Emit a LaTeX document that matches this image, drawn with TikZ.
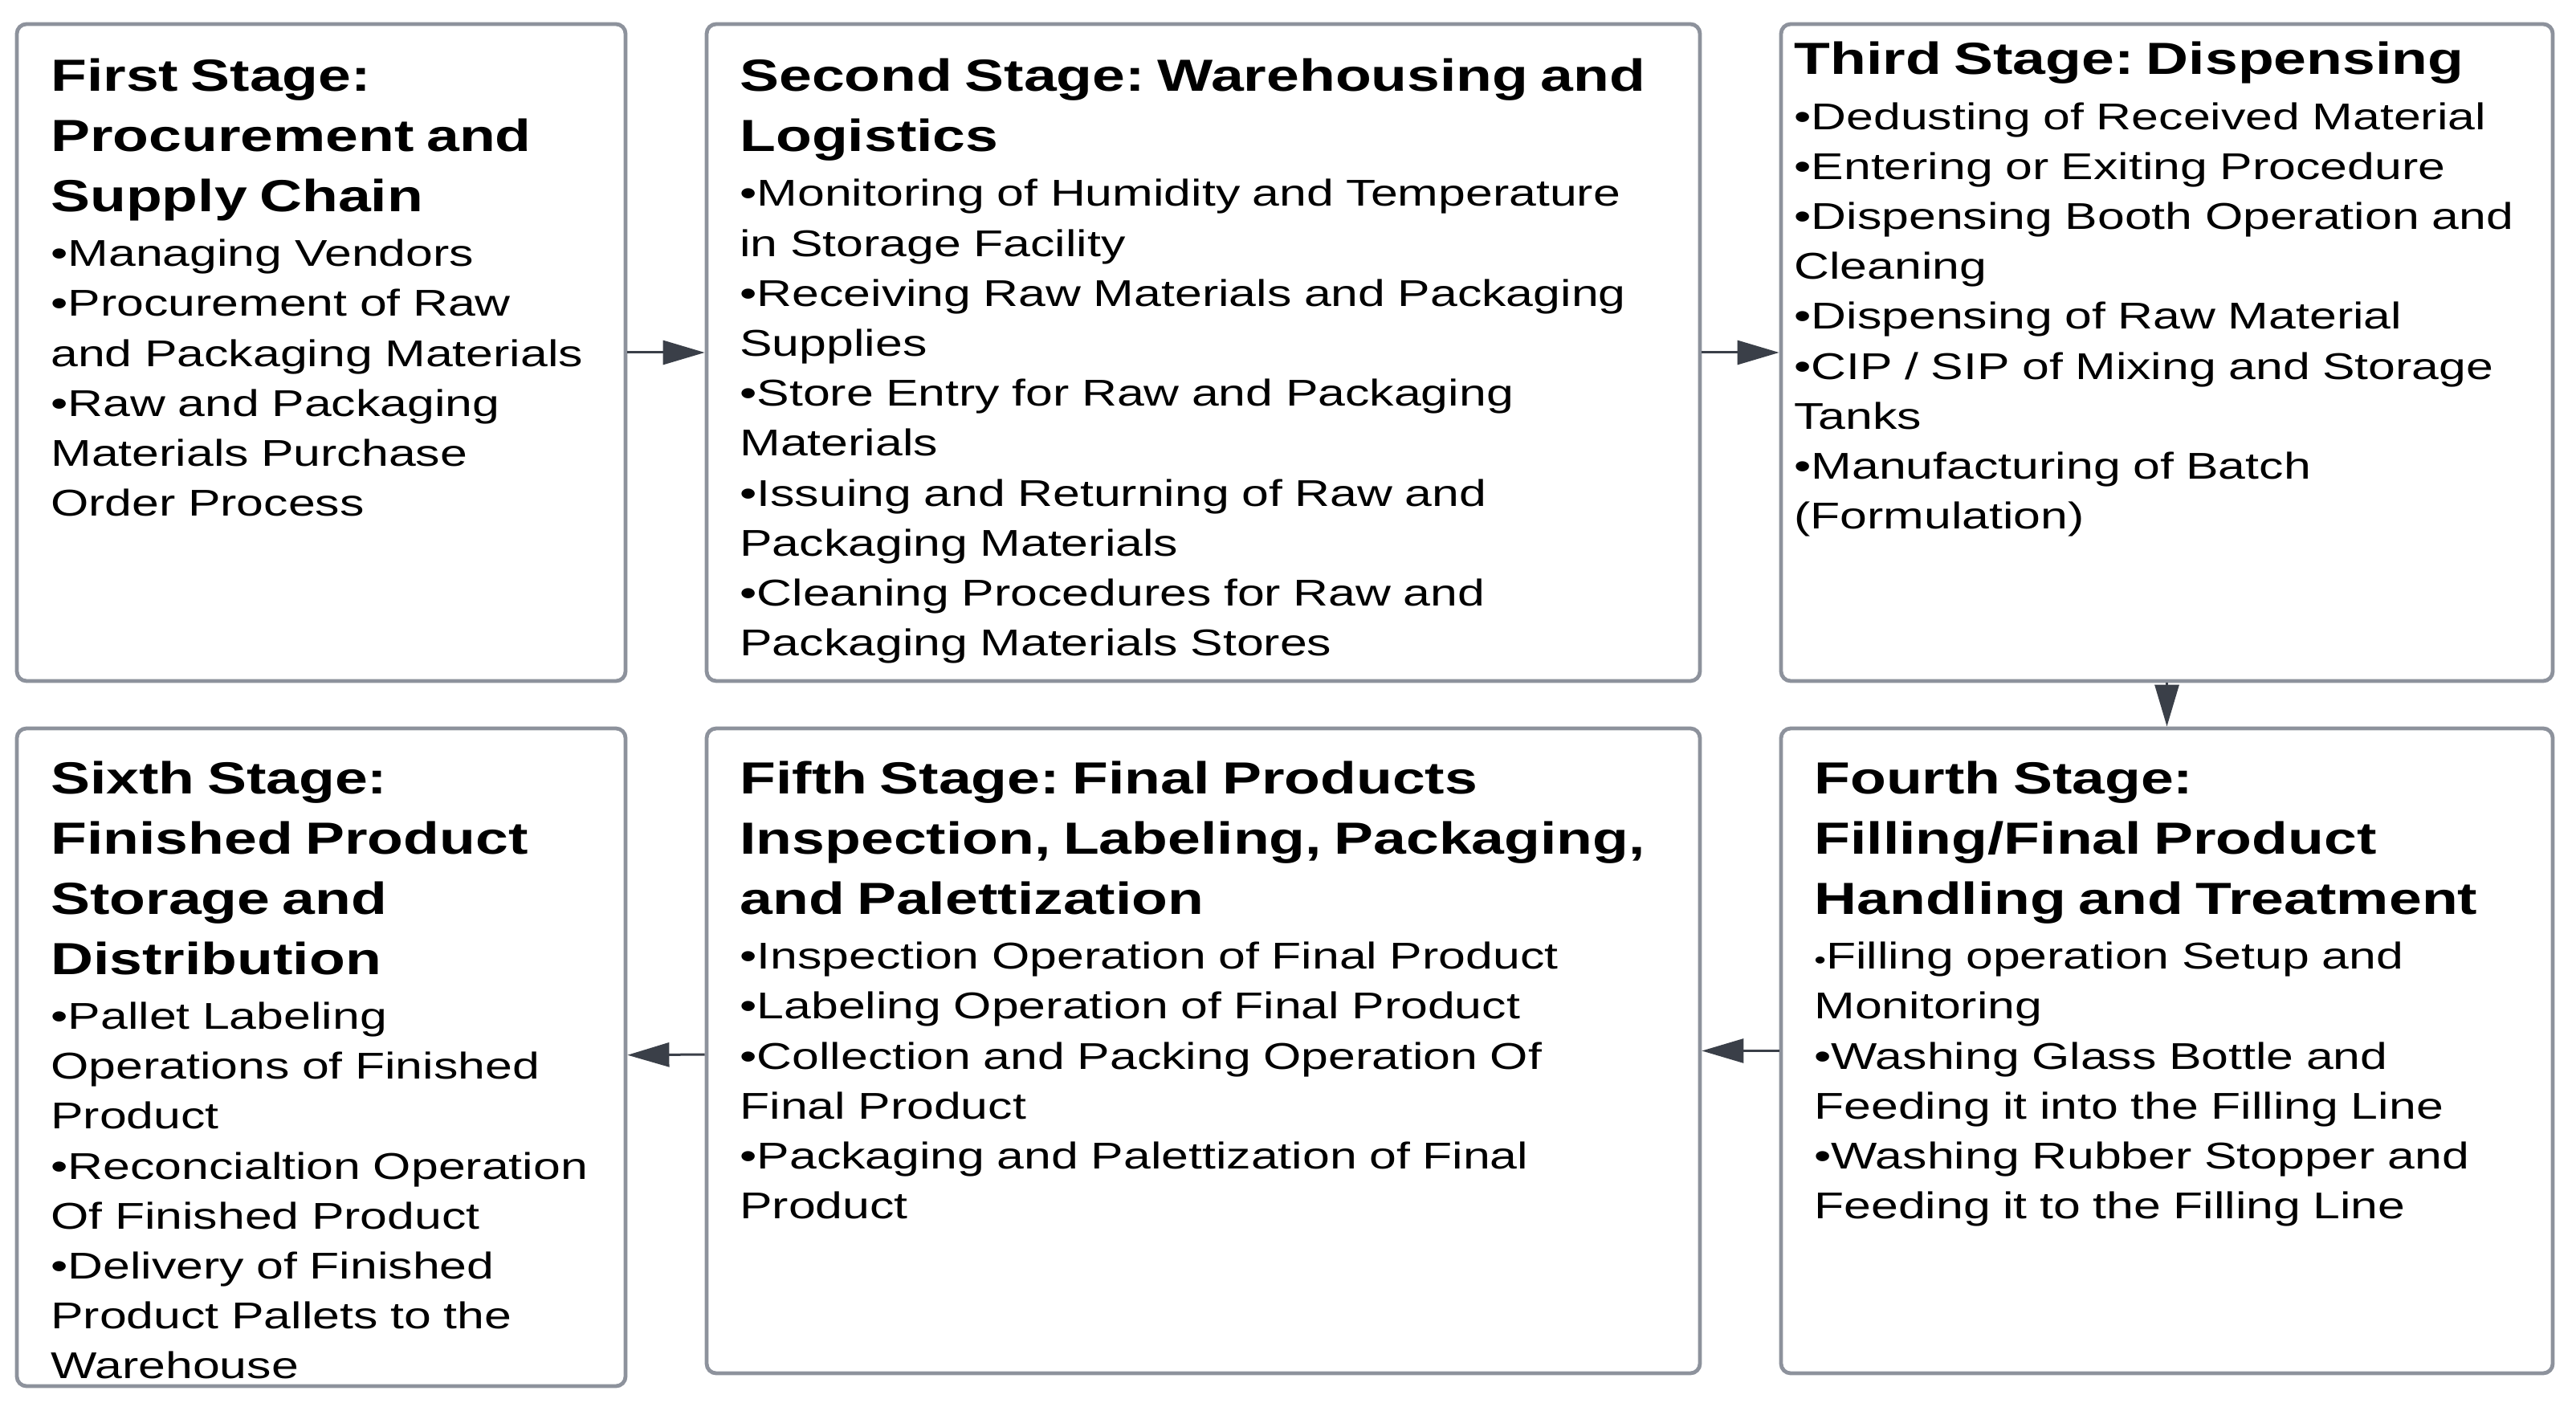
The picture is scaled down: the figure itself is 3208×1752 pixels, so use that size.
\documentclass[tikz,border=0pt]{standalone}
\usepackage{fontspec}
\setmainfont{Liberation Sans}[FakeStretch=1.31]
\usetikzlibrary{arrows.meta}
\usetikzlibrary{fit}

\definecolor{boxgray}{HTML}{8D929C}
\definecolor{arrowgray}{HTML}{3A3F48}

\frenchspacing
\newcommand{\stagebody}{\fontsize{11.6}{15.55}\selectfont}
\newcommand{\stagetitle}[1]{{\fontsize{14}{18.7}\selectfont\bfseries #1\par}\vspace{1.5pt}}

\begin{document}
\begin{tikzpicture}[x=0.25pt, y=-0.25pt,
				stagebox/.style={draw=boxgray, line width=1.2pt, rounded corners=3pt, inner sep=0pt},
				stagetext/.style={anchor=north west, inner sep=0pt, align=left, font=\stagebody},
				flow/.style={draw=arrowgray, line width=0.75pt, -{Triangle[length=13pt, width=7.5pt]}},
				]
				\useasboundingbox (0,0) rectangle (3208,1752);

				% Boxes
				\node[stagebox, fit={(21,30) (779,848)}] (s1) {};
				\node[stagebox, fit={(880,30) (2117,848)}] (s2) {};
				\node[stagebox, fit={(2218,30) (3179,848)}] (s3) {};
				\node[stagebox, fit={(2218,907) (3179,1710)}] (s4) {};
				\node[stagebox, fit={(880,907) (2117,1710)}] (s5) {};
				\node[stagebox, fit={(21,907) (779,1726)}] (s6) {};

				% Arrows
				\draw[flow] (s1) -- (s2);
				\draw[flow] (s2) -- (s3);
				\draw[flow] (s3) -- (s4);
				\draw[flow] (s4) -- (s5);
				\draw[flow] (s5) -- (s6);

				% Texts
				\node[stagetext, text width=179pt] (s1text) at ([shift={(44,45)}]s1.north west)
					{\stagetitle{First Stage:\\Procurement and\\Supply Chain}
					•Managing Vendors\\
					•Procurement of Raw\\
					and Packaging Materials\\
					•Raw and Packaging\\
					Materials Purchase\\
					Order Process};
				\node[stagetext, text width=298pt] (s2text) at ([shift={(43,45)}]s2.north west)
					{\stagetitle{Second Stage: Warehousing and\\Logistics}
					•Monitoring of Humidity and Temperature\\
					in Storage Facility\\
					•Receiving Raw Materials and Packaging\\
					Supplies\\
					•Store Entry for Raw and Packaging\\
					Materials\\
					•Issuing and Returning of Raw and\\
					Packaging Materials\\
					•Cleaning Procedures for Raw and\\
					Packaging Materials Stores};
				\node[stagetext, text width=235pt] (s3text) at ([shift={(18,24)}]s3.north west)
					{\stagetitle{Third Stage: Dispensing}
					•Dedusting of Received Material\\
					•Entering or Exiting Procedure\\
					•Dispensing Booth Operation and\\
					Cleaning\\
					•Dispensing of Raw Material\\
					•CIP / SIP of Mixing and Storage\\
					Tanks\\
					•Manufacturing of Batch\\
					(Formulation)};
				\node[stagetext, text width=229pt] (s4text) at ([shift={(43,43)}]s4.north west)
					{\stagetitle{Fourth Stage:\\Filling/Final Product\\Handling and Treatment}
					{\fontsize{8}{8}\selectfont •}Filling operation Setup and\\
					Monitoring\\
					•Washing Glass Bottle and\\
					Feeding it into the Filling Line\\
					•Washing Rubber Stopper and\\
					Feeding it to the Filling Line};
				\node[stagetext, text width=298pt] (s5text) at ([shift={(43,43)}]s5.north west)
					{\stagetitle{Fifth Stage: Final Products\\Inspection, Labeling, Packaging,\\and Palettization}
					•Inspection Operation of Final Product\\
					•Labeling Operation of Final Product\\
					•Collection and Packing Operation Of\\
					Final Product\\
					•Packaging and Palettization of Final\\
					Product};
				\node[stagetext, text width=179pt] (s6text) at ([shift={(44,43)}]s6.north west)
					{\stagetitle{Sixth Stage:\\Finished Product\\Storage and\\Distribution}
					•Pallet Labeling\\
					Operations of Finished\\
					Product\\
					•Reconcialtion Operation\\
					Of Finished Product\\
					•Delivery of Finished\\
					Product Pallets to the\\
					Warehouse};
			\end{tikzpicture}
\end{document}
